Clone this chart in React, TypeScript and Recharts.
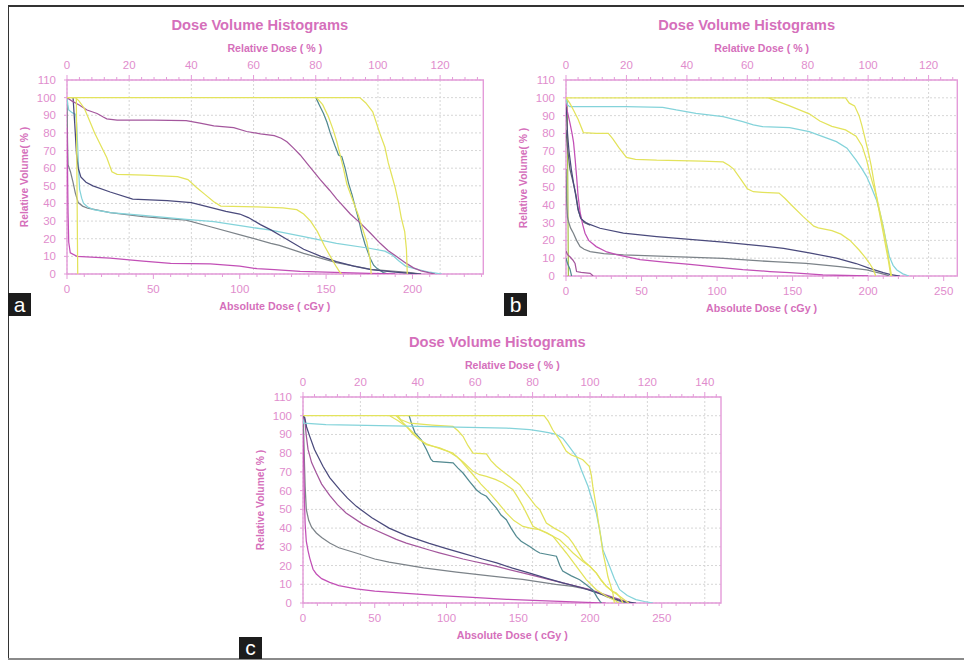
import React from 'react';
import { LineChart, Line, XAxis, YAxis, CartesianGrid, ReferenceArea } from 'recharts';

type Pt = [number, number];

const VOLUME_TICKS = [0, 10, 20, 30, 40, 50, 60, 70, 80, 90, 100, 110];

// ---------- panel a (prescription 180 cGy) ----------
const aPrescription = 180;
const aDoseMax = 241;
const aAbsLabels = [0, 50, 100, 150, 200];
const aRelLabels = [0, 20, 40, 60, 80, 100, 120];

const aYellowLow: Pt[] = [[0, 100], [5.4, 100], [6.2, 0]];
const aYellowTop: Pt[] = [[0, 100], [169.5, 100], [173, 97], [177, 92], [181, 80], [184, 72], [186, 63], [188, 56], [190, 49], [192, 40], [193.5, 32], [195.5, 24], [196.5, 14], [197, 0]];
const aYellowMid: Pt[] = [[5, 100], [7, 98], [10, 94], [13, 87], [16, 80], [20, 72], [23, 66], [26, 58], [29, 56.5], [45, 56], [64, 55.2], [70, 53.5], [75, 49], [80, 45], [85, 41], [89, 38.5], [110, 38], [125, 37.5], [133, 36.5], [137, 34], [141, 30], [145, 24], [149, 16], [153, 9], [156, 4], [158, 1], [159, 0]];
const aYellowSteep: Pt[] = [[144.5, 100], [148, 96], [151.4, 89], [154, 82], [156.2, 75], [158, 68], [160, 60], [162, 51], [165, 43], [168.8, 33], [171, 26], [173.6, 18], [175.5, 8], [176.1, 0]];
const aTeal: Pt[] = [[144.1, 100], [146, 96], [148.5, 91], [150.5, 86], [152.4, 80], [155, 73], [157.2, 67.5], [159.1, 66.5], [161, 60], [163, 51.4], [165, 45], [166.8, 38.2], [168.8, 31], [170.7, 23], [172.5, 17], [175.5, 8.9], [177.5, 5], [179.4, 3.2], [183.2, 0.8], [186, 0]];
const aPurple: Pt[] = [[0, 100], [3, 98], [6.8, 96], [11.6, 93], [17.4, 91], [21, 89], [23, 88], [29, 87.3], [50, 87.2], [69, 87], [77, 85.5], [85, 84], [96.5, 83], [104, 80.8], [112, 79.5], [120, 78.5], [124, 77], [127.3, 75], [131, 71.5], [135, 67.5], [140, 61.5], [146.6, 53.5], [152, 47.5], [156.2, 42.5], [164, 34], [170, 28.7], [176, 22.8], [181.3, 17.4], [186, 13.2], [191, 9.8], [196, 6.3], [200.6, 3.5], [205, 1.8], [210, 0.6], [213, 0]];
const aNavy: Pt[] = [[3.5, 100], [4.5, 85], [5.5, 68], [6.5, 60], [8, 55], [11, 52], [15, 50], [25, 46.5], [38, 42.5], [58, 41.6], [72, 40.5], [80, 38.5], [92, 35.5], [100, 34], [105, 32], [112, 28], [118, 25], [125, 21], [137, 14], [147, 10], [156, 7], [166, 4.5], [176, 2.5], [190, 1], [200, 0.3], [205, 0]];
const aGray: Pt[] = [[0, 100], [0.3, 75], [0.6, 62], [2, 58], [3.5, 52], [4.8, 46], [6.5, 40.5], [9, 38.5], [12, 37.3], [25, 34.8], [44, 32.5], [69, 30.6], [83, 26.8], [104, 21.2], [118, 17.4], [123, 16.2], [137, 11.7], [156, 6.4], [176, 2.6], [199, 0.8], [205, 0]];
const aCyan: Pt[] = [[0, 100], [0.5, 96], [1, 93], [3, 91.5], [5, 90.5], [5.6, 85], [6.2, 72], [6.8, 58], [7.3, 48], [8.5, 43], [9.6, 40], [12, 38], [15.4, 36.5], [25, 34.8], [44, 33.3], [69, 31], [85, 29.7], [104, 26.8], [118, 24.9], [137, 21.2], [156, 17.4], [175, 14.6], [184, 13], [188, 11], [192, 7.5], [196, 4.5], [204, 2.3], [210, 1], [217, 0]];
const aMagenta: Pt[] = [[0, 83], [0.3, 60], [0.6, 35], [1, 18], [1.9, 12], [5.8, 10], [25, 9], [44, 7.3], [60, 6], [83, 5.7], [100, 4.5], [110, 3], [120, 2.5], [135, 1.5], [155, 0.9], [175, 0.4], [190, 0]];

// ---------- panel b (prescription 200 cGy) ----------
const bPrescription = 200;
const bDoseMax = 259;
const bAbsLabels = [0, 50, 100, 150, 200, 250];
const bRelLabels = [0, 20, 40, 60, 80, 100, 120];

const bYellowTop: Pt[] = [[0, 100], [185, 100], [187.5, 97], [191, 95.5], [194, 90], [196, 84], [198, 77], [200, 70], [202, 62], [204, 52], [206, 42], [208, 33], [210, 24], [212, 15], [213.5, 8], [215, 0]];
const bYellowUpper: Pt[] = [[134, 100], [148, 95.5], [161, 91], [168, 87], [176, 84], [185, 82], [192, 78.5], [196, 73], [199, 65], [201, 58], [203, 52], [205.5, 45], [208, 35], [210, 27], [212, 18], [213.5, 10], [214.5, 5], [215.5, 0]];
const bYellowLow: Pt[] = [[0, 100], [2.5, 97], [5, 93], [8, 88], [11.5, 80.5], [20, 80], [28, 80], [31, 77], [35, 72], [40, 66.6], [46, 65.5], [60, 65], [90, 64.5], [104, 64], [108, 62], [111, 60], [116, 54], [120, 49], [124, 47.3], [130, 47], [141, 46.5], [145, 43.5], [149, 40], [157, 33.3], [164, 28], [167, 27], [176, 25.5], [182, 23.5], [188, 20], [194, 14.6], [198, 10.5], [201, 7], [203.5, 3.5], [205, 0]];
const bCyan: Pt[] = [[0, 100], [1, 96], [2.5, 95], [40, 95], [64, 94.7], [73, 93.2], [86, 91.3], [104, 89.4], [117, 86.6], [124, 84.8], [130, 83.8], [148, 83.3], [161, 81], [170, 78.2], [179, 75.4], [186, 71.7], [192, 65], [196, 60], [199, 55.8], [202, 50], [205.5, 42.7], [208, 35], [210, 27.7], [212, 19], [214, 11], [216.5, 6], [219, 3.4], [223, 1.2], [227, 0]];
const bNavy: Pt[] = [[0, 95], [0.5, 90], [1, 80], [2, 70], [3.5, 60], [5, 52], [6.5, 45], [8, 37], [10, 32], [14, 29.5], [22.5, 26.8], [38, 24], [60, 22.1], [82, 20.6], [104, 19], [126, 17.2], [144, 15.5], [161, 13], [179, 10], [192, 7], [201, 4.3], [210, 1.9], [215, 0.8], [221, 0]];
const bPurple: Pt[] = [[0, 97], [1, 92], [2.6, 86], [4, 80], [5, 75], [6, 66], [7, 56], [8, 45], [9.3, 36], [11, 29], [12.6, 24], [15, 20], [20, 16.5], [27, 13.5], [33.5, 12], [49, 9.2], [65, 7.8], [82, 6.5], [100, 5], [117, 3.6], [135, 2.5], [148, 1.9], [170, 0.6], [200, 0]];
const bGray: Pt[] = [[0, 60], [0.5, 40], [1, 33], [1.5, 31], [3, 27], [4.9, 24], [7, 20], [9.3, 16.5], [12, 15], [16, 13.7], [25, 12.6], [38, 11.8], [71, 10.9], [104, 9.9], [137, 8], [159, 7.1], [181, 5.2], [199, 3.4], [207, 1.8], [212, 0.6], [214, 0]];
const bDarkGray: Pt[] = [[0, 82], [1, 72], [2.6, 60], [4.9, 52], [6.5, 46], [8, 38], [9.5, 33], [12, 30], [16, 28.5]];
const bMagentaShort: Pt[] = [[0, 14], [1, 12], [2.6, 10.8], [4.5, 9], [6, 7], [7, 2.5], [10, 2], [16, 1.5], [18, 0]];
const bTealShort: Pt[] = [[0, 10], [1, 7], [2.6, 4], [3.7, 0]];
const bGreen: Pt[] = [[0, 100], [0.8, 98], [1.2, 50], [1.6, 0]];

// ---------- panel c (prescription 200 cGy) ----------
const cPrescription = 200;
const cDoseMax = 291.3;
const cAbsLabels = [0, 50, 100, 150, 200, 250];
const cRelLabels = [0, 20, 40, 60, 80, 100, 120, 140];

const cYellowTop: Pt[] = [[0, 100], [168, 100], [171, 97], [174, 92.5], [179, 87], [183.5, 81], [187, 79], [190.5, 78], [195, 76.5], [199.5, 73], [201, 68], [202, 62], [204, 53], [205.6, 44.5], [207.5, 35], [209, 27], [211, 20], [212.5, 14], [214.5, 9], [216, 5], [217, 0]];
const cCyan: Pt[] = [[0, 98], [0.5, 96], [16, 95.3], [72, 94.5], [142, 93.4], [158, 92.6], [165, 91.8], [171, 91], [176.5, 90], [181, 88], [185, 84], [190.5, 78.3], [194, 71], [198.6, 62.3], [201.5, 55], [204.4, 48], [207, 38], [209, 28.5], [213.7, 19.5], [217, 13], [220.7, 7.1], [226, 4], [232, 1.8], [238, 0.8], [244, 0]];
const cTeal: Pt[] = [[74, 100], [76, 95], [78, 91], [82.5, 87], [86, 82], [89, 77], [90.6, 75.6], [104.6, 74.8], [108, 72], [111.5, 69.4], [116, 65], [120.8, 60.5], [124, 58.5], [127.8, 57], [131, 54], [134.8, 50.7], [138, 47], [141.7, 44.5], [145, 40], [148.7, 35.6], [152, 33], [158, 30.2], [162, 28], [165, 26.7], [176.6, 25], [179, 20], [181, 17], [187, 14.5], [192.8, 12.4], [197, 10], [202, 7], [205, 3], [207, 0.9], [208, 0]];
const cYellowA: Pt[] = [[66, 100], [68, 98], [74.4, 96], [90, 95], [104.5, 94.3], [108, 92], [111.5, 89], [115, 84], [118.5, 80], [127.8, 79.6], [131, 76], [134.8, 73], [138, 71], [144, 67.6], [148, 65], [151, 63.2], [155, 59], [158, 56], [162, 52], [165, 49.8], [169.6, 42.7], [175, 40], [181.2, 37.4], [185, 35], [188, 32], [192, 27], [195, 23], [200, 19.5], [204.5, 16], [208, 12], [211.4, 8.9], [215, 6.5], [218.4, 5.3], [221, 3], [223, 0]];
const cYellowB: Pt[] = [[65, 100], [70, 96], [76.7, 91], [81, 87.5], [86, 84.6], [95.2, 82.8], [101, 81], [106.9, 78.3], [112, 75], [118.5, 70.3], [123, 68.5], [127.8, 67.6], [134, 66], [139.4, 64.1], [146.3, 60.5], [150, 56], [153.3, 51.6], [157, 46], [160.3, 41], [165, 39], [169.6, 37.4], [178.9, 33.8], [184, 30], [188.2, 26.7], [195.1, 22.2], [200, 19.5], [204.4, 16], [208, 12], [211.4, 8.9], [216, 6], [220.7, 3.6], [225.3, 0.9], [227, 0]];
const cYellowC: Pt[] = [[60.4, 100], [66, 97.5], [72, 94.3], [77, 90], [81.3, 87.2], [86, 85], [90.6, 83.7], [97, 82], [104.5, 80.1], [110, 76], [114, 72.5], [118.5, 68.5], [124, 63.5], [130.1, 58.7], [136, 53.5], [141.7, 48.1], [147, 44], [153.3, 40.9], [159, 39.8], [164.9, 39.2], [170, 37.5], [174.2, 35.6], [179, 31], [183.5, 26.7], [190.5, 19.6], [197.4, 12.5], [204.4, 7.1], [211.4, 3.6], [218.4, 0.9], [220, 0]];
const cNavy: Pt[] = [[0, 100], [1.2, 99], [2.5, 94], [4.7, 89], [8, 82], [13.9, 73], [18.6, 67], [25.6, 60.5], [31, 56], [37.2, 51.6], [48, 45.5], [60, 40], [72, 36], [88, 31.8], [100, 29], [111.5, 26.5], [125, 23.5], [135, 21.4], [146, 18.6], [158, 16], [170, 13.2], [181, 10.7], [195, 8], [202, 6.2], [209, 4.4], [216, 2.5], [223, 0.9], [232, 0]];
const cPurple: Pt[] = [[0, 100], [1.2, 98], [2.2, 90], [3.5, 82], [6, 75], [9.3, 69.4], [13, 63.5], [18.6, 57.5], [24, 52.5], [30, 48.1], [41.8, 42], [48.8, 39.5], [65, 34], [72, 32], [88, 28.3], [95, 26.8], [111.5, 23.5], [118.5, 22.3], [128, 20.8], [135, 19.5], [158, 15.1], [181, 10.7], [200, 7.1], [214, 3.6], [221, 1.8], [228, 0.3], [230, 0]];
const cGray: Pt[] = [[0, 100], [0.5, 90], [1, 75], [1.5, 62], [2.3, 50], [4, 44], [6, 40.5], [9.3, 37.4], [13, 35], [18.6, 32], [25, 29.5], [37, 26.7], [50, 23.5], [60, 21.8], [84, 18.7], [107, 16.5], [130, 14.5], [153, 12.6], [176, 10], [188, 8.9], [200, 7], [207, 5], [212, 3.2], [218, 1.6], [223, 0.5], [226, 0]];
const cMagenta: Pt[] = [[0, 90], [0.5, 75], [1, 55], [1.5, 42], [2.3, 33], [3.5, 28], [4.7, 24], [7, 18], [9.3, 15.5], [13, 13], [18.6, 11], [25, 9.3], [37, 7.5], [50, 6.3], [72, 5.2], [95, 4], [118, 3], [142, 2], [165, 1.3], [188, 0.6], [211, 0]];

// ---------- styling ----------
const YELLOW = '#e3e35c';
const CYAN = '#84d3da';
const PURPLE = '#a4579d';
const NAVY = '#4a4a7c';
const GRAY = '#7c8389';
const DARKGRAY = '#5e6470';
const TEAL = '#538a91';
const MAGENTA = '#c24fb6';
const GREEN = '#a9c64e';

const TITLE = '#d56fbb';
const TICK = '#df8dcd';
const FRAME = '#e49bd9';
const GRID = '#d6d6d6';
const FONT = '"Liberation Sans", Arial, sans-serif';

interface Curve { key: string; color: string; points: Pt[] }
interface Rect { x: number; y: number; w: number; h: number }

const steps = (max: number, step: number) => {
  const out: number[] = [];
  for (let t = 0; t <= max + 1e-6; t += step) out.push(+t.toFixed(3));
  return out;
};

const isLabel = (labels: number[], v: number) => labels.some(l => Math.abs(l - v) < 1e-6);

function hTick(side: 'top' | 'bottom', labels: number[]) {
  return (p: any) => {
    const v = p.payload.value;
    const major = isLabel(labels, v);
    const dir = side === 'top' ? -1 : 1;
    return (
      <g>
        <line x1={p.x} x2={p.x} y1={p.y} y2={p.y + dir * (major ? 5 : 3)} stroke={FRAME} strokeWidth={1} />
        {major && (
          <text x={p.x} y={p.y + dir * 15} textAnchor="middle" dominantBaseline="central" fill={TICK} fontSize={11.5}>
            {v}
          </text>
        )}
      </g>
    );
  };
}

const volumeTick = (p: any) => (
  <g>
    <line x1={p.x} x2={p.x - 3} y1={p.y} y2={p.y} stroke={FRAME} strokeWidth={1} />
    <text x={p.x - 11} y={p.y} textAnchor="end" dominantBaseline="central" fill={TICK} fontSize={11.5}>
      {p.payload.value}
    </text>
  </g>
);

function DvhPanel(props: {
  letter: string;
  plot: Rect;
  letterAt: { x: number; y: number; h: number };
  prescription: number;
  doseMax: number;
  absLabels: number[];
  relLabels: number[];
  curves: Curve[];
}) {
  const { letter, plot, letterAt, prescription, doseMax, absLabels, relLabels, curves } = props;
  const relMax = (doseMax * 100) / prescription;
  const cx = plot.x + plot.w / 2;
  const cy = plot.y + plot.h / 2;
  const txt = (extra: React.CSSProperties): React.CSSProperties => ({
    position: 'absolute',
    transform: 'translate(-50%, -50%)',
    whiteSpace: 'nowrap',
    fontWeight: 700,
    color: TITLE,
    ...extra,
  });

  return (
    <>
      <div style={txt({ left: cx - 15, top: plot.y - 55, fontSize: 14.7 })}>Dose Volume Histograms</div>
      <div style={txt({ left: cx, top: plot.y - 32, fontSize: 10.6 })}>Relative Dose ( % )</div>
      <div style={txt({ left: cx, top: plot.y + plot.h + 32, fontSize: 10.7 })}>Absolute Dose ( cGy )</div>
      <div style={txt({ left: plot.x - 43, top: cy, fontSize: 10.3, transform: 'translate(-50%, -50%) rotate(-90deg)' })}>
        Relative Volume( % )
      </div>
      <div
        style={{
          position: 'absolute',
          left: letterAt.x,
          top: letterAt.y,
          width: 23,
          height: letterAt.h,
          background: '#1c1c1c',
          color: '#fff',
          fontSize: 21,
          lineHeight: `${letterAt.h}px`,
          textAlign: 'center',
        }}
      >
        {letter}
      </div>
      <div style={{ position: 'absolute', left: plot.x - 60, top: plot.y - 40 }}>
        <LineChart width={plot.w + 70} height={plot.h + 70} margin={{ top: 15, right: 10, bottom: 5, left: 20 }}>
          <CartesianGrid xAxisId="rel" stroke={GRID} strokeDasharray="2 2" verticalValues={relLabels} horizontalValues={VOLUME_TICKS} />
          <XAxis
            xAxisId="rel"
            orientation="top"
            type="number"
            dataKey="d"
            domain={[0, relMax]}
            allowDataOverflow
            ticks={steps(relMax, 4)}
            interval={0}
            height={25}
            tickSize={0}
            tickMargin={0}
            axisLine={false}
            tickLine={false}
            tick={hTick('top', relLabels)}
          />
          <XAxis
            xAxisId="abs"
            orientation="bottom"
            type="number"
            dataKey="d"
            domain={[0, doseMax]}
            allowDataOverflow
            ticks={steps(doseMax, 10)}
            interval={0}
            height={25}
            tickSize={0}
            tickMargin={0}
            axisLine={false}
            tickLine={false}
            tick={hTick('bottom', absLabels)}
          />
          <YAxis
            type="number"
            domain={[0, 110]}
            ticks={VOLUME_TICKS}
            interval={0}
            width={40}
            tickSize={0}
            tickMargin={0}
            axisLine={false}
            tickLine={false}
            tick={volumeTick}
            allowDataOverflow
          />
          <ReferenceArea xAxisId="abs" x1={0} x2={doseMax} y1={0} y2={110} fill="none" stroke={FRAME} strokeWidth={1.4} />
          {curves.map(c => (
            <Line
              key={c.key}
              xAxisId="abs"
              data={c.points.map(([d, v]) => ({ d, v }))}
              dataKey="v"
              type="linear"
              stroke={c.color}
              strokeWidth={1.25}
              dot={false}
              activeDot={false}
              isAnimationActive={false}
            />
          ))}
        </LineChart>
      </div>
    </>
  );
}

const aCurves: Curve[] = [
  { key: 'aTeal', color: TEAL, points: aTeal },
  { key: 'aGray', color: GRAY, points: aGray },
  { key: 'aCyan', color: CYAN, points: aCyan },
  { key: 'aNavy', color: NAVY, points: aNavy },
  { key: 'aPurple', color: PURPLE, points: aPurple },
  { key: 'aMagenta', color: MAGENTA, points: aMagenta },
  { key: 'aYellowMid', color: YELLOW, points: aYellowMid },
  { key: 'aYellowSteep', color: YELLOW, points: aYellowSteep },
  { key: 'aYellowTop', color: YELLOW, points: aYellowTop },
  { key: 'aYellowLow', color: YELLOW, points: aYellowLow },
];

const bCurves: Curve[] = [
  { key: 'bGreen', color: GREEN, points: bGreen },
  { key: 'bDarkGray', color: DARKGRAY, points: bDarkGray },
  { key: 'bGray', color: GRAY, points: bGray },
  { key: 'bPurple', color: MAGENTA, points: bPurple },
  { key: 'bNavy', color: NAVY, points: bNavy },
  { key: 'bCyan', color: CYAN, points: bCyan },
  { key: 'bYellowLow', color: YELLOW, points: bYellowLow },
  { key: 'bYellowUpper', color: YELLOW, points: bYellowUpper },
  { key: 'bYellowTop', color: YELLOW, points: bYellowTop },
  { key: 'bMagentaShort', color: PURPLE, points: bMagentaShort },
  { key: 'bTealShort', color: TEAL, points: bTealShort },
];

const cCurves: Curve[] = [
  { key: 'cGray', color: GRAY, points: cGray },
  { key: 'cMagenta', color: MAGENTA, points: cMagenta },
  { key: 'cPurple', color: PURPLE, points: cPurple },
  { key: 'cNavy', color: NAVY, points: cNavy },
  { key: 'cTeal', color: TEAL, points: cTeal },
  { key: 'cYellowA', color: YELLOW, points: cYellowA },
  { key: 'cYellowB', color: YELLOW, points: cYellowB },
  { key: 'cYellowC', color: YELLOW, points: cYellowC },
  { key: 'cCyan', color: CYAN, points: cCyan },
  { key: 'cYellowTop', color: YELLOW, points: cYellowTop },
];

export default function App() {
  return (
    <div style={{ position: 'fixed', left: 0, top: 0, width: 964, height: 660, background: '#fff', fontFamily: FONT, overflow: 'hidden' }}>
      <div style={{ position: 'absolute', left: 8, top: 5, width: 956, height: 1.5, background: '#333' }} />
      <div style={{ position: 'absolute', left: 7.5, top: 5, width: 1.5, height: 655, background: '#333' }} />
      <div style={{ position: 'absolute', left: 8, top: 658, width: 956, height: 1.5, background: '#8a8a8a' }} />
      <DvhPanel
        letter="a"
        plot={{ x: 66.7, y: 80, w: 416.3, h: 194 }}
        letterAt={{ x: 8, y: 293, h: 23 }}
        prescription={aPrescription}
        doseMax={aDoseMax}
        absLabels={aAbsLabels}
        relLabels={aRelLabels}
        curves={aCurves}
      />
      <DvhPanel
        letter="b"
        plot={{ x: 566, y: 80, w: 391.3, h: 196 }}
        letterAt={{ x: 504, y: 293, h: 23 }}
        prescription={bPrescription}
        doseMax={bDoseMax}
        absLabels={bAbsLabels}
        relLabels={bRelLabels}
        curves={bCurves}
      />
      <DvhPanel
        letter="c"
        plot={{ x: 303.3, y: 397.3, w: 418, h: 206 }}
        letterAt={{ x: 239, y: 637, h: 22 }}
        prescription={cPrescription}
        doseMax={cDoseMax}
        absLabels={cAbsLabels}
        relLabels={cRelLabels}
        curves={cCurves}
      />
    </div>
  );
}
